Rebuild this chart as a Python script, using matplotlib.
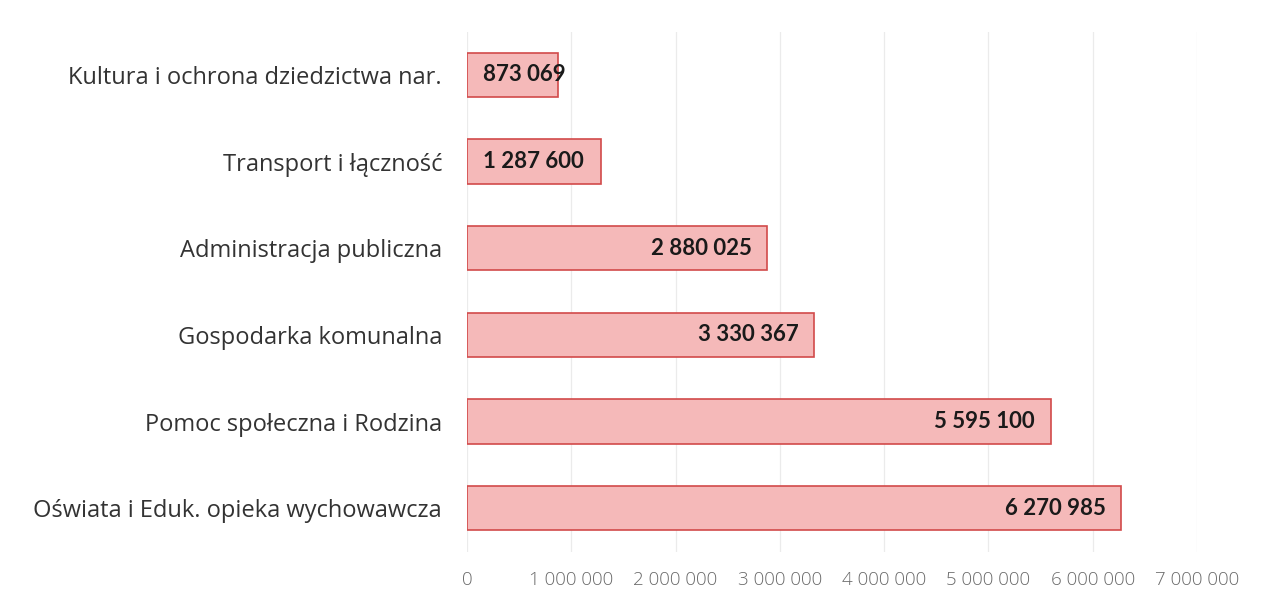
import matplotlib
matplotlib.use("Agg")
import matplotlib.pyplot as plt
from matplotlib.ticker import FixedLocator

categories = [
    "Oświata i Eduk. opieka wychowawcza",
    "Pomoc społeczna i Rodzina",
    "Gospodarka komunalna",
    "Administracja publiczna",
    "Transport i łączność",
    "Kultura i ochrona dziedzictwa nar.",
]
values = [6270985, 5595100, 3330367, 2880025, 1287600, 873069]
tick_values = [0, 1000000, 2000000, 3000000, 4000000, 5000000, 6000000, 7000000]
tick_labels = ["0", "1 000 000", "2 000 000", "3 000 000", "4 000 000",
               "5 000 000", "6 000 000", "7 000 000"]

def fmt(v):
    return f"{v:,}".replace(",", " ")

plt.rcParams['font.family'] = ['Lato', 'DejaVu Sans']

fig = plt.figure(figsize=(12.67, 5.91), dpi=100)
ax = fig.add_axes([0.3686, 0.0668, 0.9448 - 0.3686, 0.9467 - 0.0668])

y = list(range(len(categories)))
ax.barh(y, values, height=0.51, color="#F5B9B9", edgecolor="#D24A4A", linewidth=1.2, zorder=3)

ax.set_xlim(0, 7000000)
ax.set_ylim(-0.5, len(categories) - 0.5)
ax.xaxis.set_major_locator(FixedLocator(tick_values))
ax.set_xticklabels(tick_labels, fontsize=13.5, color="#6a6a6a",
                   family=['Open Sans', 'DejaVu Sans'], fontweight='light')
ax.set_yticks(y)
ax.set_yticklabels(categories, fontsize=17, color="#333333",
                   family=['Open Sans', 'DejaVu Sans'])
ax.tick_params(axis="x", length=0, pad=14)
ax.tick_params(axis="y", length=0, pad=18)
for s in ax.spines.values():
    s.set_visible(False)
ax.grid(axis="x", color="#EBEBEB", linewidth=0.9, zorder=0)
ax.set_axisbelow(True)

pad = 150000
for yi, v in zip(y, values):
    if v < 1500000:
        ax.text(pad, yi, fmt(v), ha="left", va="center", fontsize=16,
                fontweight="bold", color="#1a1a1a", zorder=4)
    else:
        ax.text(v - pad, yi, fmt(v), ha="right", va="center", fontsize=16,
                fontweight="bold", color="#1a1a1a", zorder=4)

fig.savefig("out.png", dpi=100)
